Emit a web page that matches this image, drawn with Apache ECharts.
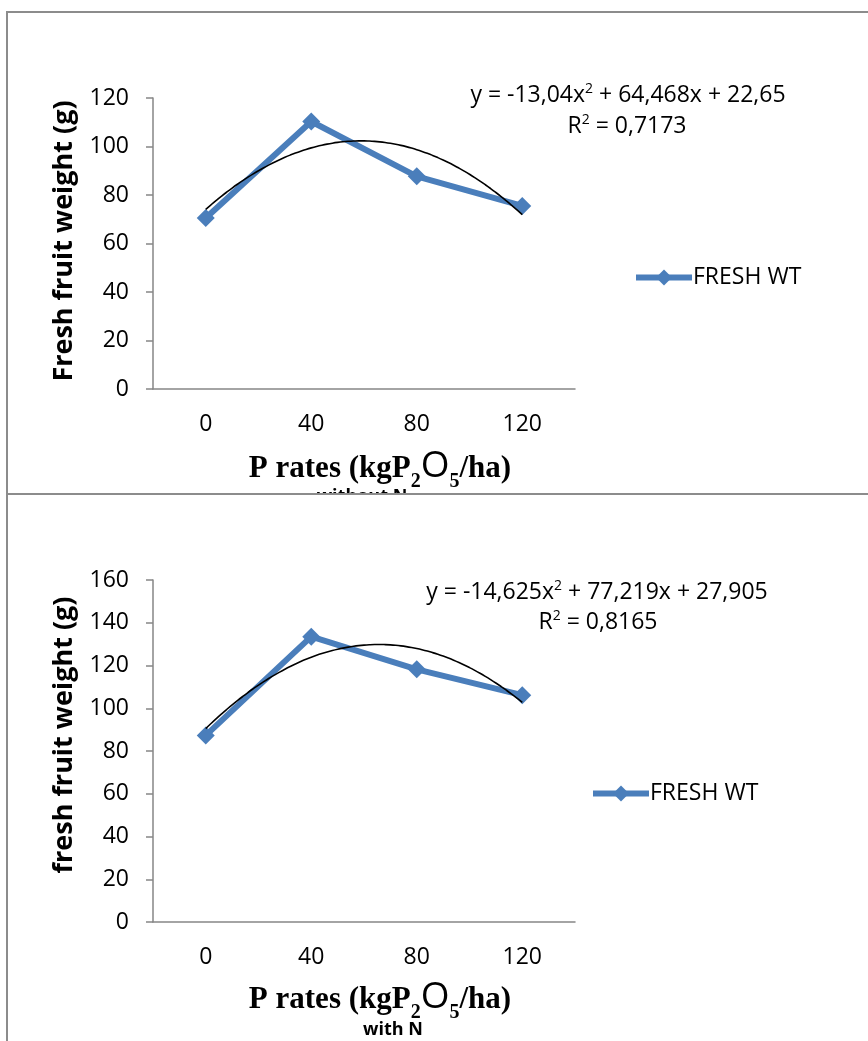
<!DOCTYPE html>
<html>
<head>
<meta charset="utf-8">
<script src="https://cdn.jsdelivr.net/npm/echarts@6/dist/echarts.min.js"></script>
<style>
html,body{margin:0;padding:0;background:#fff;}
#chart{width:868px;height:1041px;}
</style>
</head>
<body>
<div id="chart"></div>
<script>
// ---- data ----
var categories = ['0', '40', '80', '120'];
var freshWithoutN = [70.5, 110.3, 87.7, 75.5];
var freshWithN = [87.3, 133.5, 118.2, 106.1];
// Excel polynomial trendline coefficients shown on the chart (a*x^2 + b*x + c, x = 1..4)
var trendWithoutN = [-13.04, 64.468, 22.65];
var trendWithN = [-14.625, 77.219, 27.905];
var yTicksTop = [0, 20, 40, 60, 80, 100, 120];
var yTicksBottom = [0, 20, 40, 60, 80, 100, 120, 140, 160];
var seriesName = 'FRESH WT';

function trendPoints(coef) {
  var pts = [];
  for (var i = 0; i <= 60; i++) {
    var x = 1 + i * 0.05;
    pts.push([x, coef[0] * x * x + coef[1] * x + coef[2]]);
  }
  return pts;
}

var AX = '#868686';
var BLUE = '#4A7EBB';
var FONT = 'Open Sans';
var FS = 23;

function catAxis(gi) {
  return {
    type: 'category', gridIndex: gi, data: categories, boundaryGap: true,
    axisLine: {lineStyle: {color: AX, width: 1.5}},
    axisTick: {length: 7, lineStyle: {color: AX, width: 1.5}},
    axisLabel: {color: '#000', fontFamily: FONT, fontSize: FS, margin: 24}
  };
}
function valX(gi) {
  return {type: 'value', gridIndex: gi, min: 0.5, max: 4.5, show: false};
}
function valY(gi, ticks) {
  return {
    type: 'value', gridIndex: gi, min: ticks[0], max: ticks[ticks.length - 1],
    interval: ticks[1] - ticks[0],
    axisLine: {show: true, lineStyle: {color: AX, width: 1.5}},
    axisTick: {show: true, length: 7, lineStyle: {color: AX, width: 1.5}},
    splitLine: {show: false},
    axisLabel: {color: '#000', fontFamily: FONT, fontSize: FS, margin: 24}
  };
}

function xTitle(x, y) {
  return {
    type: 'text', x: x, y: y, z: 5,
    style: {
      text: '{m|P rates (kgP}{s|2}{o|O}{s|5}{m|/ha)}',
      textAlign: 'center', textVerticalAlign: 'middle',
      rich: {
        m: {fontFamily: 'Liberation Serif', fontWeight: 'bold', fontSize: 31, fill: '#000', verticalAlign: 'bottom'},
        s: {fontFamily: 'Liberation Serif', fontWeight: 'bold', fontSize: 20, fill: '#000', verticalAlign: 'bottom', padding: [0, 0, -7, 0]},
        o: {fontFamily: FONT, fontSize: 37, fill: '#000', verticalAlign: 'bottom'}
      }
    }
  };
}
function eq(x, y, pre, post) {
  return {type: 'text', z: 5, x: x, y: y,
    style: {text: pre + '{sup|2}' + post, fontFamily: FONT, fontSize: FS, fill: '#000', textAlign: 'center', textVerticalAlign: 'middle',
      rich: {sup: {fontFamily: FONT, fontSize: 14, fill: '#000', padding: [0, 0, 11, 0]}}}};
}

function legendAt(left, top) {
  return {data: [seriesName], left: left, top: top, padding: 0, itemWidth: 56, itemHeight: 20, itemGap: 0,
    lineStyle: {width: 6},
    textStyle: {fontFamily: FONT, fontSize: FS, color: '#000', padding: [0, 0, 0, -4]}};
}

var chart = echarts.init(document.getElementById('chart'));
chart.setOption({
  animation: false,
  backgroundColor: '#fff',
  grid: [
    {left: 153, top: 98, width: 422, height: 291},
    {left: 153, top: 580, width: 422, height: 342}
  ],
  xAxis: [catAxis(0), valX(0), catAxis(1), valX(1)],
  yAxis: [valY(0, yTicksTop), valY(1, yTicksBottom)],
  legend: [legendAt(633, 266), legendAt(590, 782)],
  series: [
    {name: seriesName, type: 'line', xAxisIndex: 0, yAxisIndex: 0, data: freshWithoutN,
     symbol: 'diamond', symbolSize: 18, lineStyle: {color: BLUE, width: 6},
     itemStyle: {color: BLUE}, z: 3},
    {name: 'trend1', type: 'line', xAxisIndex: 1, yAxisIndex: 0, data: trendPoints(trendWithoutN),
     symbol: 'none', smooth: true, lineStyle: {color: '#000', width: 1.6}, z: 4},
    {name: seriesName, type: 'line', xAxisIndex: 2, yAxisIndex: 1, data: freshWithN,
     symbol: 'diamond', symbolSize: 18, lineStyle: {color: BLUE, width: 6},
     itemStyle: {color: BLUE}, z: 3},
    {name: 'trend2', type: 'line', xAxisIndex: 3, yAxisIndex: 1, data: trendPoints(trendWithN),
     symbol: 'none', smooth: true, lineStyle: {color: '#000', width: 1.6}, z: 4}
  ],
  graphic: [
    {type: 'rect', z: -10, shape: {x: 7, y: 12, width: 1000, height: 482},
     style: {fill: '#fff', stroke: '#8c8c8c', lineWidth: 2}},
    {type: 'text', z: -9, x: 362, y: 497,
     style: {text: 'without N', fontFamily: FONT, fontWeight: 'bold', fontSize: 18, fill: '#000', textAlign: 'center', textVerticalAlign: 'middle'}},
    {type: 'rect', z: -8, shape: {x: 7, y: 494, width: 1000, height: 700},
     style: {fill: '#fff', stroke: '#8c8c8c', lineWidth: 2}},
    {type: 'text', z: 5, x: 64, y: 241, rotation: Math.PI / 2,
     style: {text: 'Fresh fruit weight (g)', fontFamily: FONT, fontWeight: 'bold', fontSize: 27, fill: '#000', textAlign: 'center', textVerticalAlign: 'middle'}},
    {type: 'text', z: 5, x: 64, y: 735, rotation: Math.PI / 2,
     style: {text: 'fresh fruit weight (g)', fontFamily: FONT, fontWeight: 'bold', fontSize: 27, fill: '#000', textAlign: 'center', textVerticalAlign: 'middle'}},
    eq(628, 95, 'y = -13,04x', ' + 64,468x + 22,65'),
    eq(627, 126, 'R', ' = 0,7173'),
    eq(597, 592, 'y = -14,625x', ' + 77,219x + 27,905'),
    eq(598, 622, 'R', ' = 0,8165'),
    xTitle(380, 466),
    xTitle(380, 997),
    {type: 'text', z: 5, x: 393, y: 1030,
     style: {text: 'with N', fontFamily: FONT, fontWeight: 'bold', fontSize: 18, fill: '#000', textAlign: 'center', textVerticalAlign: 'middle'}}
  ]
});
</script>
</body>
</html>
